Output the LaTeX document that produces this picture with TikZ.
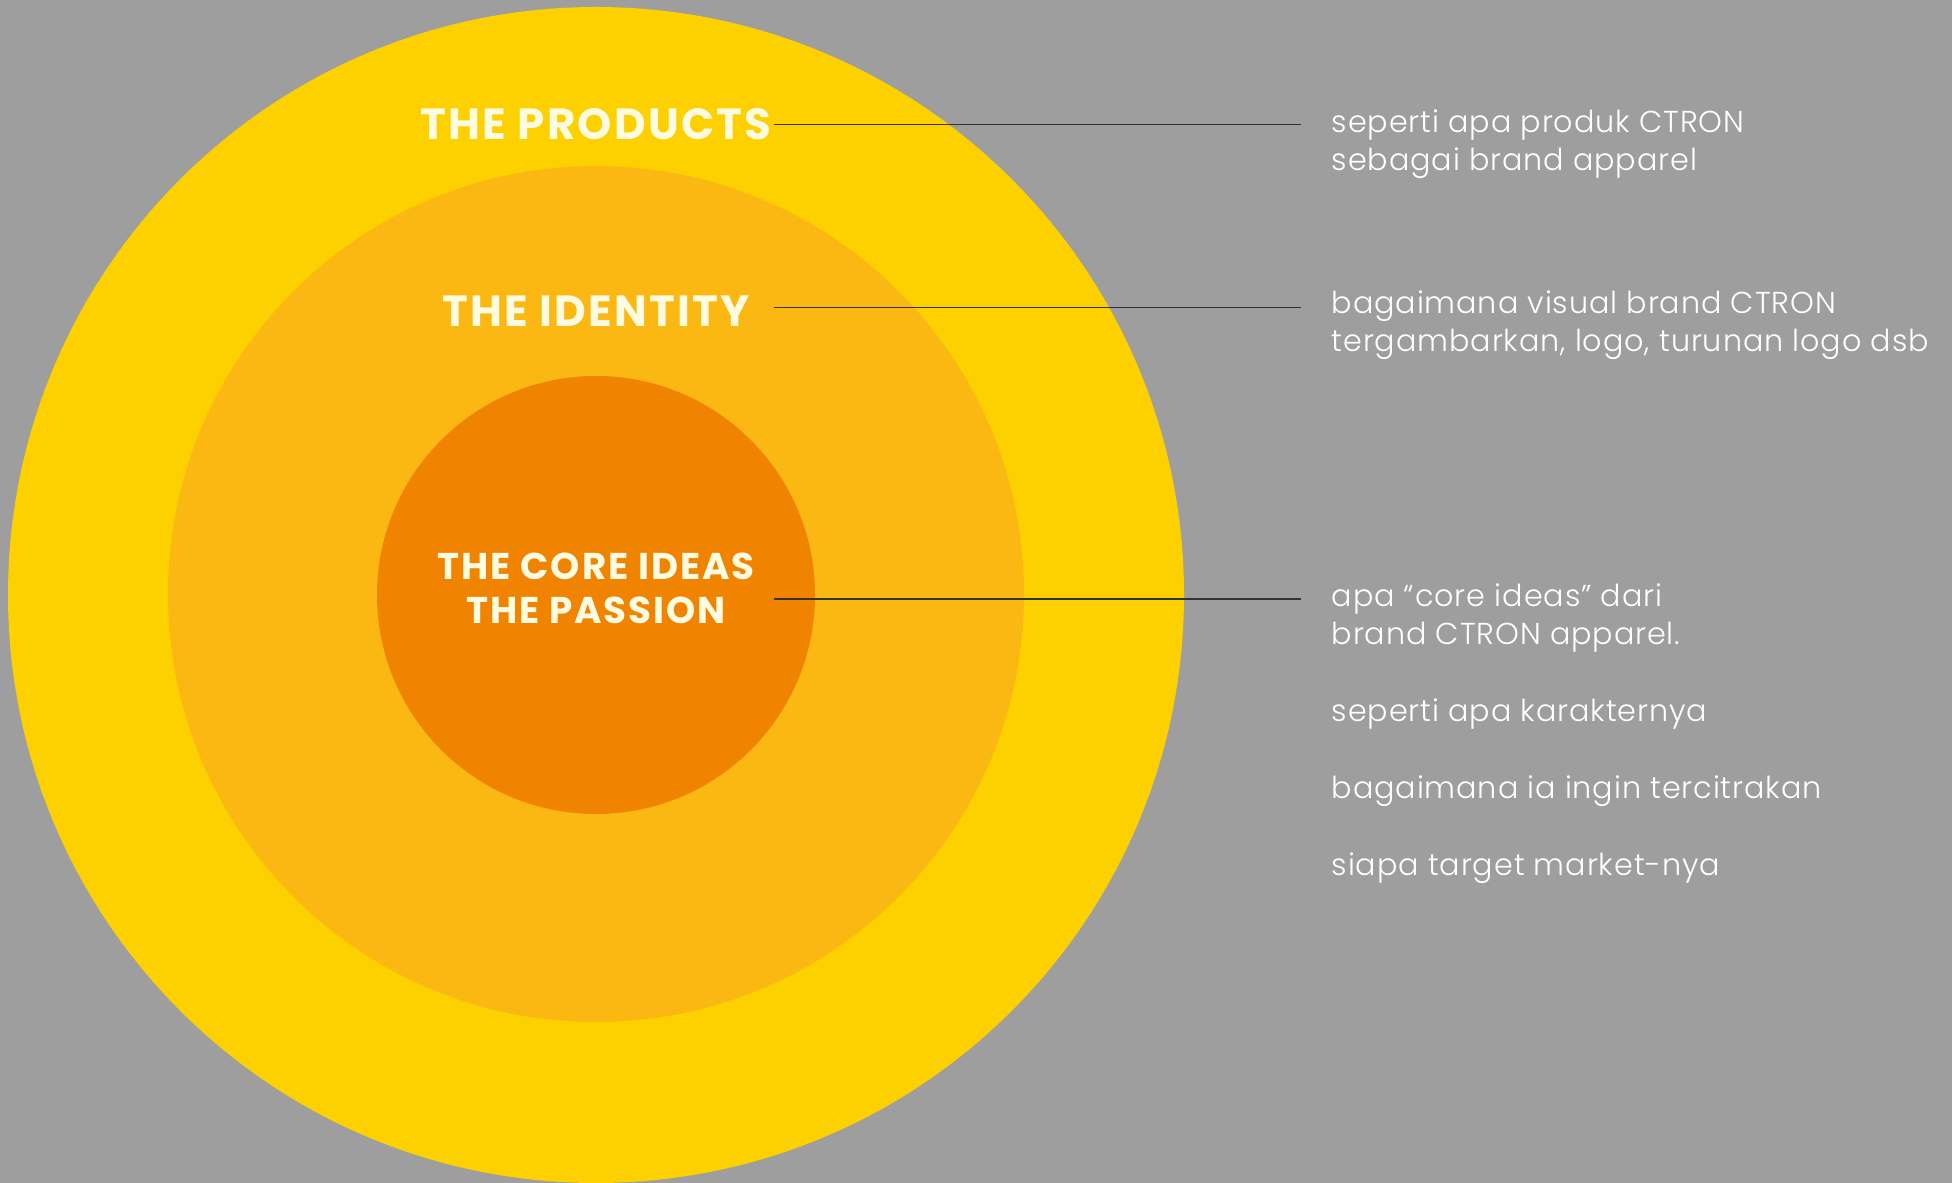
\documentclass[tikz,border=0pt]{standalone}
\usepackage{fontspec}
\setmainfont{Poppins}
\newfontfamily\lightfont{Poppins}[UprightFont=* Light, LetterSpace=3]
\newfontfamily\titlefont{Poppins}[UprightFont=* Bold, LetterSpace=5]
\definecolor{bgc}{HTML}{9E9E9E}
\definecolor{outerc}{HTML}{FDD000}
\definecolor{midc}{HTML}{FBB813}
\definecolor{innerc}{HTML}{F08300}
\definecolor{titlec}{HTML}{FFFBE0}
\definecolor{linec}{HTML}{333333}
\tikzset{
  title/.style={text=titlec, font=\titlefont\fontsize{12.4}{14}\selectfont, inner sep=0pt},
  coretitle/.style={text=titlec, font=\titlefont\fontsize{10.6}{12.5}\selectfont, align=center, inner sep=0pt},
  desc/.style={text=white, font=\lightfont\fontsize{8.6}{10.95}\selectfont, align=left, anchor=north west, inner sep=0pt},
  leader/.style={draw=linec, line width=0.45pt}
}
\begin{document}
\begin{tikzpicture}[x=0.01cm,y=-0.01cm]
\fill[bgc] (0,0) rectangle (1952,1183);
\useasboundingbox (0,0) rectangle (1952,1183);
\begin{scope}
\clip (0,0) rectangle (1952,1183);
\fill[outerc] (596,595) circle[radius=588];
\fill[midc] (596,594) circle[radius=428];
\fill[innerc] (596,595) circle[radius=219];
\end{scope}
\node[title] (prod) at (596,124) {THE PRODUCTS};
\node[title] (ident) at (596,311) {THE IDENTITY};
\node[coretitle] (core) at (596,588) {THE CORE IDEAS\\THE PASSION};
\node[desc] (d1) at (1331,109) {seperti apa produk CTRON\\sebagai brand apparel};
\node[desc] (d2) at (1331,290) {bagaimana visual brand CTRON\\tergambarkan, logo, turunan logo dsb};
\node[desc] (d3) at (1331,583) {apa “core ideas” dari\\brand CTRON apparel.\\[10.95pt]seperti apa karakternya\\[10.95pt]bagaimana ia ingin tercitrakan\\[10.95pt]siapa target market-nya};
\coordinate (a1) at (774,124.5);
\coordinate (b1) at (1301,124.5);
\coordinate (a2) at (774,307.5);
\coordinate (b2) at (1301,307.5);
\coordinate (a3) at (774,599);
\coordinate (b3) at (1301,599);
\draw[leader] (a1) -- (b1);
\draw[leader] (a2) -- (b2);
\draw[leader] (a3) -- (b3);
\end{tikzpicture}
\end{document}
